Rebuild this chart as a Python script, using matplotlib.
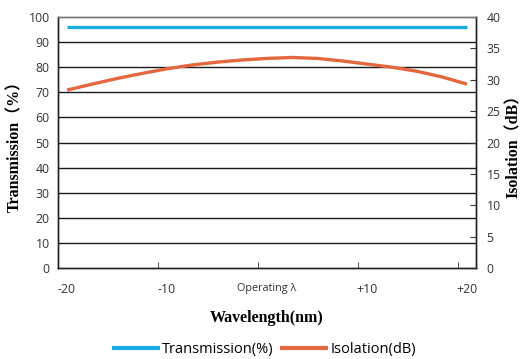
import matplotlib
matplotlib.use("Agg")
import matplotlib.pyplot as plt
from matplotlib.lines import Line2D

# Data
wavelength = [-20, -17.5, -15, -12.5, -10, -7.5, -5, -2.5, 0, 2.5, 5, 7.5, 10, 12.5, 15, 17.5, 20]
transmission = [96] * len(wavelength)
isolation = [28.35, 29.3, 30.2, 31.0, 31.75, 32.35, 32.8, 33.15, 33.4, 33.55, 33.4, 33.0, 32.5, 32.0, 31.35, 30.45, 29.3]
xtick_pos = [-20, -10, 0, 10, 20]
xtick_labels = ["-20", "-10", "Operating λ", "+10", "+20"]
left_ticks = list(range(0, 101, 10))
right_ticks = list(range(0, 41, 5))

blue = "#1AADE4"
orange = "#E4673F"
sans = ["Open Sans", "DejaVu Sans"]
serif = ["Liberation Serif", "Noto Sans CJK SC"]

fig = plt.figure(figsize=(5.24, 3.59), dpi=100)
ax = fig.add_axes([58 / 524, 1 - 268 / 359, (475.5 - 58) / 524, (268 - 17) / 359])
ax2 = ax.twinx()

ax.set_xlim(-20.9, 20.85)
ax.set_ylim(0, 100)
ax2.set_ylim(0, 40)

for y in left_ticks[1:-1]:
    ax.axhline(y, color="#1a1a1a", lw=1.0, zorder=1)

ax.plot(wavelength, transmission, color=blue, lw=2.4, solid_capstyle="butt", zorder=3)
ax2.plot(wavelength, isolation, color=orange, lw=2.4, solid_capstyle="butt", zorder=3)

ax.set_yticks(left_ticks)
ax.set_yticklabels([str(v) for v in left_ticks], family=sans, fontsize=8.8, color="#333333")
ax.tick_params(axis="y", length=0, pad=6)
ax.set_xticks(xtick_pos)
ax.set_xticklabels(xtick_labels, family=sans, fontsize=8.8, color="#333333")
for lbl in ax.get_xticklabels():
    if lbl.get_text() == "Operating λ":
        lbl.set_fontsize(7.8)
ax.tick_params(axis="x", which="major", length=0, pad=11)
ax.set_xticks([-10.9, -0.9, 9.05, 19.05], minor=True)
ax.tick_params(axis="x", which="minor", direction="in", length=4, color="#333333")

ax2.set_yticks(right_ticks)
ax2.set_yticklabels([str(v) for v in right_ticks], family=sans, fontsize=8.8, color="#333333")
ax2.tick_params(axis="y", direction="in", length=4, pad=8, color="#333333")

for a in (ax, ax2):
    for s in a.spines.values():
        s.set_color("#222222")
        s.set_linewidth(1.0)
    a.spines["top"].set_color("#777777")

ax.set_ylabel("Transmission（%）", family=serif, fontweight="bold", fontsize=11.5, labelpad=4)
ax2.set_ylabel("Isolation（dB）", family=serif, fontweight="bold", fontsize=11.5, labelpad=4)
ax.set_xlabel("Wavelength(nm)", family=serif, fontweight="bold", fontsize=11.5, labelpad=10)

handles = [Line2D([], [], color=blue, lw=3), Line2D([], [], color=orange, lw=3)]
fig.legend(handles, ["Transmission(%)", "Isolation(dB)"], loc="center", bbox_to_anchor=(265 / 524, 1 - 350 / 359),
           ncol=2, frameon=False, prop={"family": sans, "size": 10.5}, handlelength=3.0,
           handletextpad=0.3, columnspacing=0.6, borderaxespad=0)

fig.savefig("out.png", dpi=100)
